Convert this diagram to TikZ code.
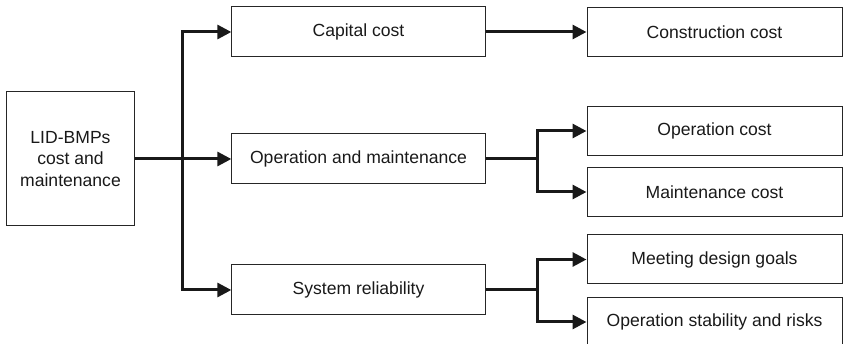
\documentclass[tikz,border=0pt]{standalone}
\usepackage{fontspec}
\setmainfont{Liberation Sans}
\usepackage{tikz}
\usetikzlibrary{arrows.meta}

\begin{document}
\begin{tikzpicture}
	[x=0.3mm, y=-0.3mm,
	box/.style={draw=black!85, line width=0.3mm, rectangle, inner sep=0pt, align=center,
		font=\fontsize{15}{18.5}\selectfont, text=black!90},
	midbox/.style={box, minimum width=76mm, minimum height=15mm},
	leafbox/.style={box, minimum width=76.5mm, minimum height=14.7mm},
	conn/.style={draw=black!90, line width=0.9mm, line join=miter},
	arr/.style={conn, -{Triangle[length=4.2mm,width=4.2mm]}},
	darr/.style={conn, {Triangle[length=4.2mm,width=4.2mm]}-{Triangle[length=4.2mm,width=4.2mm]}}]

	\clip (0,0) rectangle (843,344);

	% root
	\node[box, minimum width=38.1mm, minimum height=40.2mm] (root) at (70.5,159)
		{LID-BMPs\\cost and\\maintenance};

	% middle level
	\node[midbox] (cap) at (358.5,32) {Capital cost};
	\node[midbox] (om) at (358.5,159) {Operation and maintenance};
	\node[midbox] (sr) at (358.5,290) {System reliability};

	% right level
	\node[leafbox] (con) at (714.5,32) {Construction cost};
	\node[leafbox] (opc) at (714.5,131) {Operation cost};
	\node[leafbox] (mc) at (714.5,192) {Maintenance cost};
	\node[leafbox] (mdg) at (714.5,259.5) {Meeting design goals};
	\node[leafbox] (osr) at (714.5,322) {Operation stability and risks};

	% branch points
	\coordinate (t0) at (182,159);
	\coordinate (t1) at (537,159);
	\coordinate (t2) at (537,290);

	% connectors
	\draw[arr] (root.east) -- (om.west);
	\draw[darr] (cap.west) -| (t0) |- (sr.west);
	\draw[arr] (cap.east) -- (con.west);

	\draw[conn] (om.east) -- (t1);
	\draw[darr] (opc.west) -| (t1) |- (mc.west);

	\draw[conn] (sr.east) -- (t2);
	\draw[darr] (mdg.west) -| (t2) |- (osr.west);

\end{tikzpicture}
\end{document}
